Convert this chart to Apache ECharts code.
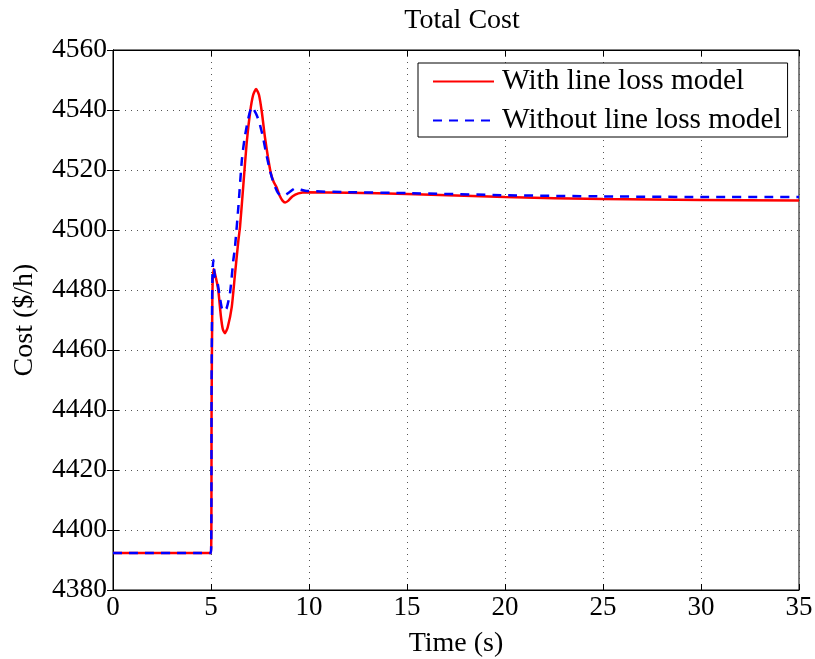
<!DOCTYPE html>
<html><head><meta charset="utf-8">
<script src="https://cdn.jsdelivr.net/npm/echarts@6/dist/echarts.min.js"></script>
<style>html,body{margin:0;padding:0;background:#fff}#c{width:815px;height:659px}</style>
</head><body><div id="c"></div>
<script>
const seriesNames = ['With line loss model', 'Without line loss model'];
const redTime = [0, 5.0, 5.03, 5.07, 5.12, 5.2, 5.37, 5.5, 5.6, 5.71, 5.85, 6.06, 6.22, 6.4, 6.48, 6.65, 6.82, 7.0, 7.15, 7.3, 7.45, 7.6, 7.75, 7.9, 8.05, 8.2, 8.35, 8.5, 8.65, 8.78, 8.95, 9.15, 9.46, 9.88, 12, 15, 20, 25, 30, 35];
const redCost = [4392.3, 4392.3, 4440, 4478, 4487, 4485.5, 4480, 4471.5, 4467, 4465.6, 4467.5, 4474.4, 4485, 4496.7, 4501, 4515, 4529, 4539.5, 4545, 4547, 4545, 4539, 4531, 4524.5, 4519, 4516, 4514.2, 4511.5, 4509.8, 4509.2, 4509.8, 4511.2, 4512.2, 4512.6, 4512.4, 4512.0, 4511.0, 4510.3, 4510.0, 4509.8];
const blueTime = [0, 5.0, 5.03, 5.07, 5.12, 5.2, 5.3, 5.42, 5.55, 5.65, 5.8, 5.97, 6.14, 6.22, 6.4, 6.57, 6.7, 6.82, 6.95, 7.08, 7.2, 7.35, 7.5, 7.65, 7.8, 8.0, 8.2, 8.43, 8.6, 8.75, 9.0, 9.3, 9.6, 9.88, 12, 15, 20, 25, 30, 35];
const blueCost = [4392.3, 4392.3, 4450, 4484, 4490, 4484.5, 4483.5, 4479, 4474, 4472.8, 4474, 4479, 4490, 4494, 4508, 4523, 4530, 4534.5, 4538.5, 4541, 4540, 4538, 4535, 4531, 4526, 4520, 4515.5, 4512.2, 4511.6, 4511.6, 4512.6, 4513.9, 4513.4, 4513.0, 4512.6, 4512.3, 4511.6, 4511.2, 4511.0, 4511.0];
const xTicks = [0, 5, 10, 15, 20, 25, 30, 35];
const yTicks = [4380, 4400, 4420, 4440, 4460, 4480, 4500, 4520, 4540, 4560];

const pairs = (t, v) => t.map((x, i) => [x, v[i]]);
const font = 'Liberation Serif';
const chart = echarts.init(document.getElementById('c'), null, {renderer: 'canvas'});
const axisLine = {show: true, lineStyle: {color: '#000', width: 1}};
const tick = {inside: true, length: 6, lineStyle: {color: '#000'}};
chart.setOption({
  animation: false,
  backgroundColor: '#fff',
  title: {text: 'Total Cost', left: 457, top: 2, textAlign: 'center',
    textStyle: {fontFamily: font, fontSize: 28, fontWeight: 'normal', color: '#000'}},
  grid: {left: 113, top: 50, right: 16, bottom: 69, show: true, borderColor: '#000', borderWidth: 1,
    containLabel: false, outerBoundsMode: 'none'},
  legend: {
    left: 418, top: 63, orient: 'vertical', itemWidth: 61, itemHeight: 14, itemGap: 10,
    backgroundColor: '#fff', borderColor: '#000', borderWidth: 1, padding: [4, 6, 2, 14],
    textStyle: {fontFamily: font, fontSize: 29.3, color: '#000', padding: [0, 0, 0, 3]},
    itemStyle: {opacity: 0},
    data: seriesNames
  },
  xAxis: [{
    type: 'value', min: xTicks[0], max: xTicks[xTicks.length - 1], interval: 5,
    name: 'Time (s)', nameLocation: 'middle', nameGap: 40,
    nameTextStyle: {fontFamily: font, fontSize: 28, color: '#000'},
    axisLine: axisLine, axisTick: tick,
    axisLabel: {fontFamily: font, fontSize: 27, color: '#000', margin: 4, formatter: v => String(v)},
    splitLine: {show: true, lineStyle: {type: [1, 5], color: '#555', width: 1}}
  }, {
    type: 'value', position: 'top', min: 0, max: 35, interval: 5,
    axisLine: axisLine, axisTick: tick,
    axisLabel: {show: false}, splitLine: {show: false}
  }],
  yAxis: [{
    type: 'value', min: yTicks[0], max: yTicks[yTicks.length - 1], interval: 20,
    name: 'Cost ($/h)', nameLocation: 'middle', nameGap: 74, nameRotate: 90,
    nameTextStyle: {fontFamily: font, fontSize: 28, color: '#000'},
    axisLine: axisLine, axisTick: tick,
    axisLabel: {fontFamily: font, fontSize: 27.5, color: '#000', margin: 6, formatter: v => String(v)},
    splitLine: {show: true, lineStyle: {type: [1, 5], color: '#555', width: 1}}
  }, {
    type: 'value', position: 'right', min: 4380, max: 4560, interval: 20,
    axisLine: axisLine, axisTick: tick,
    axisLabel: {show: false}, splitLine: {show: false}
  }],
  series: [{
    name: seriesNames[0], type: 'line', symbol: 'none', smooth: 0.2,
    data: pairs(redTime, redCost),
    lineStyle: {color: '#ff0000', width: 2.5}, itemStyle: {color: '#ff0000'}
  }, {
    name: seriesNames[1], type: 'line', symbol: 'none', smooth: 0.2,
    data: pairs(blueTime, blueCost),
    lineStyle: {color: '#0000ff', width: 2.5, type: [9, 7]}, itemStyle: {color: '#0000ff'}
  }]
});
</script></body></html>
